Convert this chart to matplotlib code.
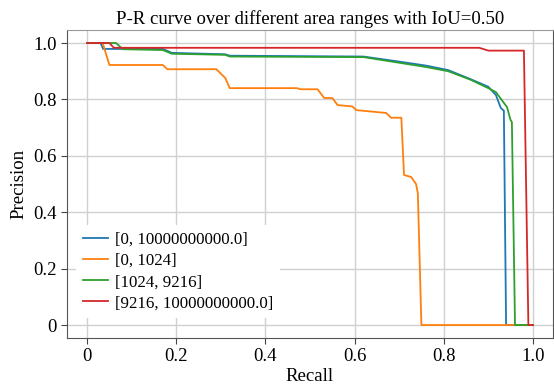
import numpy as np
import matplotlib.pyplot as plt

plt.rcParams['font.family'] = ['Liberation Serif', 'DejaVu Serif']
plt.rcParams['mathtext.fontset'] = 'stix'

labels = ['[0, 10000000000.0]', '[0, 1024]', '[1024, 9216]', '[9216, 10000000000.0]']

# all areas
r_all = [0, 0.03, 0.036, 0.17, 0.19, 0.31, 0.32, 0.62, 0.70, 0.76, 0.81, 0.86,
         0.90, 0.917, 0.928, 0.935, 0.94, 1.0]
p_all = [1.0, 1.0, 0.979, 0.979, 0.965, 0.96, 0.955, 0.952, 0.934, 0.92, 0.904,
         0.872, 0.845, 0.816, 0.77, 0.76, 0, 0]

# small
r_small = [0, 0.035, 0.05, 0.17, 0.18, 0.29, 0.31, 0.32, 0.47, 0.48, 0.517, 0.532,
           0.55, 0.562, 0.595, 0.604, 0.671, 0.682, 0.705, 0.711, 0.727, 0.738,
           0.742, 0.75, 1.0]
p_small = [1, 1, 0.922, 0.922, 0.907, 0.907, 0.876, 0.84, 0.84, 0.836, 0.836, 0.805,
           0.805, 0.78, 0.775, 0.762, 0.752, 0.735, 0.735, 0.532, 0.525, 0.50,
           0.468, 0, 0]

# medium
r_medium = [0, 0.065, 0.08, 0.17, 0.19, 0.31, 0.32, 0.62, 0.70, 0.76, 0.81, 0.86,
            0.90, 0.917, 0.942, 0.95, 0.953, 0.96, 1.0]
p_medium = [1, 1, 0.978, 0.975, 0.962, 0.958, 0.952, 0.95, 0.93, 0.915, 0.9, 0.87,
            0.84, 0.826, 0.773, 0.727, 0.72, 0, 0]

# large
r_large = [0, 0.05, 0.06, 0.88, 0.90, 0.98, 0.99, 1.0]
p_large = [1, 1, 0.983, 0.983, 0.973, 0.973, 0, 0]

fig = plt.figure(figsize=(5.54, 3.85), dpi=100)
ax = fig.add_axes([0.121, 0.122, 0.877, 0.80])

for r, p, lab in zip([r_all, r_small, r_medium, r_large],
                     [p_all, p_small, p_medium, p_large], labels):
    ax.plot(r, p, lw=1.3, label=lab)

ax.set_xlim(-0.045, 1.045)
ax.set_ylim(-0.046, 1.046)
ticks = [0, 0.2, 0.4, 0.6, 0.8, 1.0]
ax.set_xticks(ticks)
ax.set_xticklabels(['0', '0.2', '0.4', '0.6', '0.8', '1.0'])
ax.set_yticks(ticks)
ax.set_yticklabels(['0', '0.2', '0.4', '0.6', '0.8', '1.0'])
ax.tick_params(labelsize=13.5, direction='out', length=4, color='#444444')
ax.grid(True, color='#d0d0d0', lw=1)
ax.set_axisbelow(True)
for s in ax.spines.values():
    s.set_color('#555555')
ax.spines['top'].set_color('#999999')

ax.set_title('P-R curve over different area ranges with IoU=0.50', fontsize=13.5, pad=4)
ax.set_xlabel('Recall', fontsize=13.5, labelpad=2)
ax.set_ylabel('Precision', fontsize=13.5)

leg = ax.legend(loc='lower left', bbox_to_anchor=(0.019, 0.065), borderaxespad=0,
                fontsize=12.2, frameon=True, fancybox=False,
                handlelength=1.5, handletextpad=0.4, labelspacing=0.3)
leg.get_frame().set_edgecolor('none')
leg.get_frame().set_alpha(1)

plt.savefig('out.png', dpi=100)
